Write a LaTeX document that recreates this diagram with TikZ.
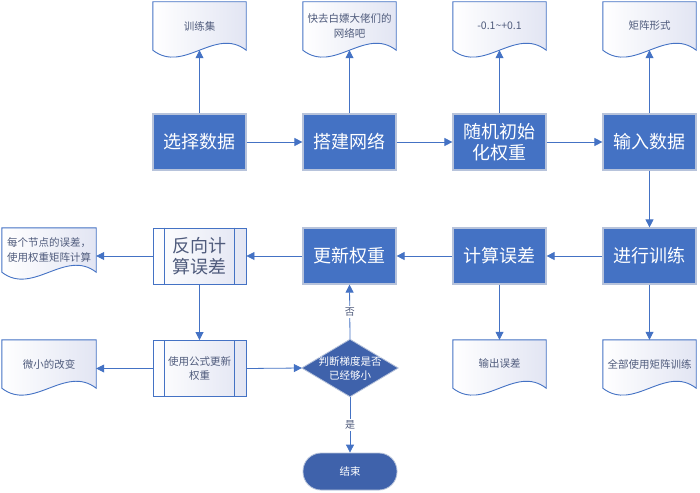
\documentclass[tikz,border=0pt]{standalone}
\usepackage{fontspec}
\setmainfont{Noto Sans CJK SC}
\usetikzlibrary{arrows.meta,backgrounds,calc}
\definecolor{mainblue}{HTML}{4472C4}
\definecolor{darkblue}{HTML}{3F62AB}
\definecolor{boxedge}{HTML}{B7C3DB}
\definecolor{doctext}{HTML}{4F5B7C}
\definecolor{docshade}{HTML}{E2E5F3}
\newcommand\docframe[1]{%
  \path[draw=mainblue, line width=0.9pt, left color=white, right color=docshade]
    (#1.south west) -- (#1.north west) -- (#1.north east) -- (#1.south east)
    .. controls ($(#1.south east)+(-31,-24)$) and ($(#1.south west)+(31,24)$) .. (#1.south west) -- cycle;}
\newcommand\predefframe[1]{%
  \draw[mainblue, line width=0.9pt] ([xshift=12pt]#1.north west) -- ([xshift=12pt]#1.south west)
    ([xshift=-12pt]#1.north east) -- ([xshift=-12pt]#1.south east);}
\begin{document}
\begin{tikzpicture}[x=1pt,y=-1pt,
  procbox/.style={rectangle, fill=mainblue, draw=boxedge, line width=1.2pt, minimum width=93pt,
    minimum height=56pt, inner sep=0pt, text=white, font=\fontsize{18}{21}\selectfont, align=center},
  docbox/.style={rectangle, minimum width=93pt, minimum height=48pt, inner sep=2pt, text=doctext,
    font=\fontsize{10.5}{15}\selectfont, align=center},
  predef/.style={rectangle, draw=mainblue, line width=0.9pt, left color=white, right color=docshade,
    minimum width=93pt, minimum height=56pt, inner sep=0pt, align=center, text=doctext},
  conn/.style={draw=mainblue, line width=0.8pt, -{Triangle[length=8pt,width=8pt]}},
  lbl/.style={fill=white, inner sep=1.5pt, text=doctext, font=\fontsize{10}{12}\selectfont}
]
\useasboundingbox (0,0) rectangle (700,492);

% top documents
\node[docbox] (d1) at (199.5,26) {训练集};
\node[docbox] (d2) at (349.5,26) {快去白嫖大佬们的\\网络吧};
\node[docbox] (d3) at (499.5,26) {-0.1\textasciitilde+0.1};
\node[docbox] (d4) at (649.5,26) {矩阵形式};

% row 1
\node[procbox] (s1) at (199.5,142) {选择数据};
\node[procbox] (s2) at (349.5,142) {搭建网络};
\node[procbox] (s3) at (499.5,142) {随机初始\\化权重};
\node[procbox] (s4) at (649.5,142) {输入数据};

% row 2
\node[predef, font=\fontsize{18}{21}\selectfont] (back) at (199.5,256) {反向计\\算误差};
\node[procbox] (upd) at (349.5,256) {更新权重};
\node[procbox] (err) at (499.5,256) {计算误差};
\node[procbox] (train) at (649.5,256) {进行训练};
\node[docbox, minimum width=94pt, minimum height=44pt, align=left, inner sep=3pt] (dl1) at (49,250) {每个节点的误差，\\使用权重矩阵计算};

% row 3
\node[predef, font=\fontsize{10.5}{14}\selectfont] (formula) at (199.5,368.5) {使用公式更新\\权重};
\node[rectangle, minimum width=96pt, minimum height=57pt, inner sep=0pt, text=white,
  font=\fontsize{10.5}{14}\selectfont, align=center] (dia) at (350,368) {判断梯度是否\\已经够小};
\node[docbox, minimum width=94pt] (dl2) at (49,364) {微小的改变};
\node[docbox] (dout) at (499.5,364) {输出误差};
\node[docbox] (dall) at (649.5,364) {全部使用矩阵训练};

% end
\node[rectangle, rounded corners=18pt, fill=darkblue, draw=boxedge, line width=0.8pt,
  minimum width=94pt, minimum height=37pt, text=white, font=\fontsize{10.5}{12}\selectfont] (fin) at (350,471.5) {结束};

\begin{scope}[on background layer]
  \fill[white] (0,0) rectangle (700,492);
  \docframe{d1}\docframe{d2}\docframe{d3}\docframe{d4}
  \docframe{dl1}\docframe{dl2}\docframe{dout}\docframe{dall}
  \fill[darkblue, draw=boxedge, line width=0.8pt] (dia.north) -- (dia.east) -- (dia.south) -- (dia.west) -- cycle;
\end{scope}
\predefframe{back}
\predefframe{formula}

% connectors
\draw[conn] (s1) -- (s2);
\draw[conn] (s2) -- (s3);
\draw[conn] (s3) -- (s4);
\draw[conn] (s1.north) -- (d1.south);
\draw[conn] (s2.north) -- (d2.south);
\draw[conn] (s3.north) -- (d3.south);
\draw[conn] (s4.north) -- (d4.south);
\draw[conn] (s4.south) -- (train.north);
\draw[conn] (train) -- (err);
\draw[conn] (err) -- (upd);
\draw[conn] (upd) -- (back);
\draw[conn] (back.west) -- (dl1.east |- back.west);
\draw[conn] (back.south) -- (formula.north);
\draw[conn] (formula.west) -- (dl2.east |- formula.west);
\draw[conn] (formula.east) -- (dia.west);
\draw[conn] (dia.north) -- node[lbl] {否} (upd.south);
\draw[conn] (dia.south) -- node[lbl] {是} (fin.north);
\draw[conn] (err.south) -- (dout.north);
\draw[conn] (train.south) -- (dall.north);
\end{tikzpicture}
\end{document}
